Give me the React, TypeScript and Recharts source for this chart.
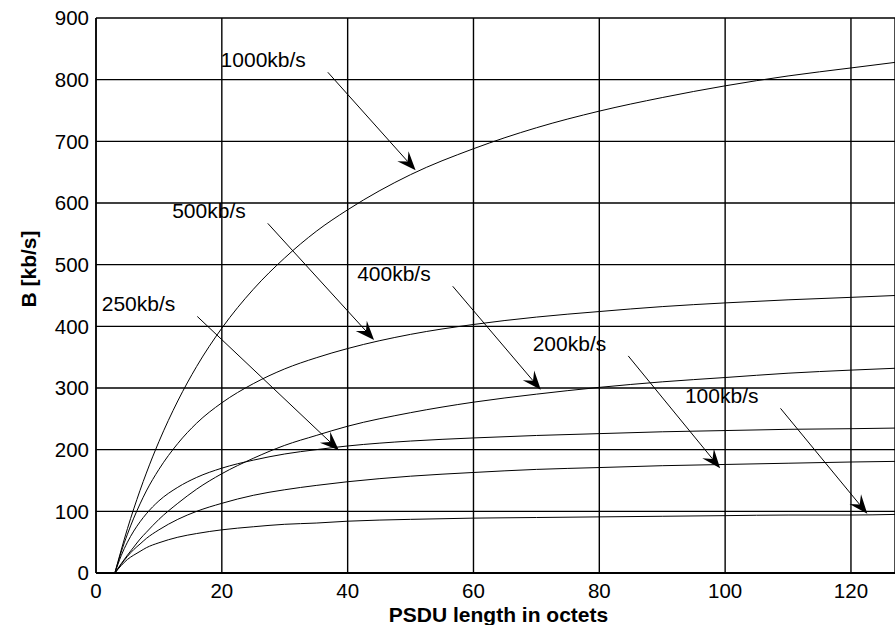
import { LineChart, Line, XAxis, YAxis, CartesianGrid, ReferenceLine, Label } from 'recharts';

// PSDU length (octets) and throughput B [kb/s] for each data rate
const psdu = [3, 4, 5, 6, 7, 8, 10, 13, 16, 20, 25, 30, 35, 40, 50, 60, 70, 80, 90, 100, 110, 120, 127];
const b1000 = [0, 37, 72, 104, 134, 162, 213, 279, 335, 397, 460, 511, 554, 589, 646, 688, 722, 749, 771, 790, 806, 819, 828];
const b500 = [0, 34, 63, 89, 112, 133, 168, 210, 243, 276, 307, 331, 349, 364, 387, 403, 415, 424, 432, 438, 443, 447, 450];
const b400 = [0, 15, 29, 42, 55, 66, 87, 113, 136, 161, 186, 207, 223, 238, 260, 277, 290, 301, 310, 317, 324, 329, 332];
const b250 = [0, 28, 50, 68, 83, 96, 117, 139, 155, 170, 183, 193, 200, 206, 214, 219, 223, 226, 229, 231, 233, 234, 235];
const b200 = [0, 14, 27, 38, 47, 56, 70, 87, 100, 113, 126, 135, 142, 148, 157, 163, 168, 171, 174, 176, 178, 180, 181];
const b100 = [0, 12, 22, 29, 35, 41, 49, 58, 64, 70, 75, 79, 81, 84, 87, 89, 90, 91, 92, 93, 94, 94, 95];

const xTicks = [0, 20, 40, 60, 80, 100, 120];
const yTicks = [0, 100, 200, 300, 400, 500, 600, 700, 800, 900];

// arrow annotations: label, tail point, head point (data units)
const annLabels = ['1000kb/s', '500kb/s', '400kb/s', '250kb/s', '200kb/s', '100kb/s'];
const annFrom = [[36.85, 812], [27.3, 567], [56.7, 465], [16.1, 416], [84.6, 352], [108.8, 267]];
const annTo = [[50.8, 653], [44.2, 378], [70.7, 297], [38.6, 199], [99.2, 170], [122.6, 96]];

const series = [
  { key: 'r1000', values: b1000 },
  { key: 'r500', values: b500 },
  { key: 'r400', values: b400 },
  { key: 'r250', values: b250 },
  { key: 'r200', values: b200 },
  { key: 'r100', values: b100 },
];

const data = psdu.map((x, i) => {
  const row: Record<string, number> = { x };
  series.forEach(s => { row[s.key] = s.values[i]; });
  return row;
});

const FONT = '"Liberation Sans", Arial, sans-serif';

function Arrow(props: any) {
  const { x1, y1, x2, y2, text } = props;
  const dx = x2 - x1;
  const dy = y2 - y1;
  const len = Math.hypot(dx, dy) || 1;
  const ux = dx / len, uy = dy / len;
  const nx = -uy, ny = ux;
  const L = 19, W = 7.5, N = 12;
  const bx = x2 - ux * L, by = y2 - uy * L;
  const head = `M${x2},${y2} L${bx + nx * W},${by + ny * W} L${x2 - ux * N},${y2 - uy * N} L${bx - nx * W},${by - ny * W} Z`;
  return (
    <g>
      <line x1={x1} y1={y1} x2={x2 - ux * N} y2={y2 - uy * N} stroke="#000" strokeWidth={1} />
      <path d={head} fill="#000" stroke="none" />
      <text x={x1 - 22} y={y1 - 5} textAnchor="end" fontSize={21} fontFamily={FONT} fill="#000">
        {text}
      </text>
    </g>
  );
}

export default function App() {
  return (
    <div style={{ position: 'absolute', left: 0, top: 0, background: '#fff' }}>
      <LineChart width={895} height={625} data={data} margin={{ top: 18, right: 0, bottom: 0, left: 0 }}>
        <CartesianGrid stroke="#000" strokeWidth={1.4} />
        <XAxis
          dataKey="x"
          type="number"
          domain={[0, 127]}
          ticks={xTicks}
          height={52}
          tickLine={false}
          tickSize={8}
          tickMargin={2}
          axisLine={{ stroke: '#000', strokeWidth: 2 }}
          tick={{ fill: '#000', fontSize: 20.5, fontFamily: FONT }}
        >
          <Label
            content={(p: any) => {
              const vb = p.viewBox;
              return (
                <text x={vb.x + vb.width / 2 + 3} y={vb.y + 49} textAnchor="middle" fontSize={21} fontWeight="bold" fontFamily={FONT} fill="#000">
                  PSDU length in octets
                </text>
              );
            }}
          />
        </XAxis>
        <YAxis
          type="number"
          domain={[0, 900]}
          ticks={yTicks}
          width={96}
          tickLine={false}
          tickSize={5}
          tickMargin={2}
          axisLine={{ stroke: '#000', strokeWidth: 1.5 }}
          tick={{ fill: '#000', fontSize: 20.5, fontFamily: FONT }}
        >
          <Label
            content={() => (
              <text x={36} y={269} transform="rotate(-90 36 269)" textAnchor="middle" fontSize={21} fontWeight="bold" fontFamily={FONT} fill="#000">
                B [kb/s]
              </text>
            )}
          />
        </YAxis>
        {series.map(s => (
          <Line key={s.key} dataKey={s.key} type="monotone" stroke="#000" strokeWidth={1} dot={false} activeDot={false} isAnimationActive={false} />
        ))}
        {annLabels.map((t, i) => (
          <ReferenceLine
            key={t}
            segment={[{ x: annFrom[i][0], y: annFrom[i][1] }, { x: annTo[i][0], y: annTo[i][1] }]}
            ifOverflow="visible"
            shape={(p: any) => <Arrow {...p} text={t} />}
          />
        ))}
      </LineChart>
    </div>
  );
}
